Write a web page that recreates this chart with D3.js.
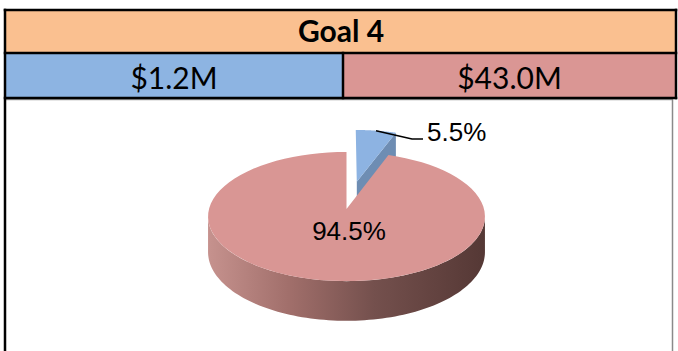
<!DOCTYPE html>
<html>
<head>
<meta charset="utf-8">
<script src="https://cdn.jsdelivr.net/npm/d3@7"></script>
<style>
  body { margin: 0; background: #fff; }
</style>
</head>
<body>
<div id="chart"></div>
<script>
var title = "Goal 4";
var categories = ["Funded", "Unfunded"];
var amountLabels = ["$1.2M", "$43.0M"];
var pieValues = [5.5, 94.5];
var pieLabels = ["5.5%", "94.5%"];
var bandColours = ["#8db4e2", "#da9694"];
var pieColours = ["#8db3e2", "#d99694"];

function drawChart() {
    d3.select("#chart").selectAll("*").remove();

    var width = 678, height = 351;
    var svg = d3.select("#chart")
      .append("svg")
        .attr("width", width)
        .attr("height", height);

    // header table, the two cells are not quite equal
    var tableLeft = 5, tableRight = 676;
    var x = d3.scaleOrdinal()
      .domain(categories)
      .range([tableLeft, 343]);
    var cellWidth = function (d, i) {
        return (i < categories.length - 1 ? x(categories[i + 1]) : tableRight) - x(d);
    };
    var headerTop = 10, headerMid = 53, headerBottom = 98;

    svg.append("rect")
      .attr("x", tableLeft)
      .attr("y", headerTop)
      .attr("width", tableRight - tableLeft)
      .attr("height", headerMid - headerTop)
      .attr("fill", "#fac090");

    svg.selectAll(".band")
      .data(categories).enter()
      .append("rect")
        .attr("x", d => x(d))
        .attr("y", headerMid)
        .attr("width", cellWidth)
        .attr("height", headerBottom - headerMid)
        .attr("fill", (d, i) => bandColours[i]);

    // grid lines
    var lines = [
      [tableLeft, headerTop, tableRight, headerTop],
      [tableLeft, headerMid, tableRight, headerMid],
      [tableLeft, headerBottom, tableRight, headerBottom],
      [tableLeft, headerTop, tableLeft, height],
      [tableRight, headerTop, tableRight, headerBottom],
      [x(categories[1]), headerMid, x(categories[1]), headerBottom]
    ];
    svg.append("line")
      .attr("x1", 6).attr("x2", 672)
      .attr("y1", 99.5).attr("y2", 99.5)
      .attr("stroke", "#9a9a9a")
      .attr("stroke-width", 1.5);
    svg.append("line")
      .attr("x1", 672.5).attr("x2", 672.5)
      .attr("y1", 99).attr("y2", height)
      .attr("stroke", "#8a8a8a")
      .attr("stroke-width", 1.5);
    svg.selectAll(".grid")
      .data(lines).enter()
      .append("line")
        .attr("x1", d => d[0]).attr("y1", d => d[1])
        .attr("x2", d => d[2]).attr("y2", d => d[3])
        .attr("stroke", "#000")
        .attr("stroke-width", 2.5)
        .attr("stroke-linecap", "square");

    svg.append("text")
      .attr("x", 341)
      .attr("y", 42)
      .attr("text-anchor", "middle")
      .style("font-family", "Lato, 'Open Sans', sans-serif")
      .style("font-weight", "bold")
      .style("font-size", "30px")
      .text(title);

    svg.selectAll(".amount")
      .data(amountLabels).enter()
      .append("text")
        .attr("x", (d, i) => x(categories[i]) + cellWidth(categories[i], i) / 2)
        .attr("y", 89)
        .attr("text-anchor", "middle")
        .style("font-family", "Lato, 'Open Sans', sans-serif")
        .style("font-size", "30px")
        .text(d => d);

    // 3d pie with a little perspective
    var cx = 346.5, cy = 209, rx = 137.5, ry = 63.7, persp = 0.117, depth = 35;
    var explode = [0.458, 0];

    function project(u, v, drop) {
        var f = 1 / (1 - persp * v);
        return [cx + rx * u * f, cy + (ry * v + (drop || 0)) * f];
    }
    function rim(a, off, drop) {
        return project(Math.sin(a) + off[0], -Math.cos(a) + off[1], drop);
    }

    var pie = d3.pie().sort(null).value(d => d);
    var arcs = pie(pieValues);
    arcs.forEach(function (d, i) {
        var mid = (d.startAngle + d.endAngle) / 2;
        d.off = [explode[i] * Math.sin(mid), -explode[i] * Math.cos(mid)];
    });

    var line = d3.line();

    var grad = svg.append("defs").append("linearGradient")
      .attr("id", "side")
      .attr("x1", "0%").attr("x2", "100%")
      .attr("y1", "0%").attr("y2", "0%");
    grad.selectAll("stop")
      .data([[0, "#c6928e"], [0.3, "#a06e6a"], [0.6, "#74504d"], [1, "#553835"]]).enter()
      .append("stop")
        .attr("offset", d => d[0])
        .attr("stop-color", d => d[1]);

    function topFace(d) {
        var pts = [project(d.off[0], d.off[1])];
        var n = 80;
        for (var k = 0; k <= n; k++) {
            var a = d.startAngle + (d.endAngle - d.startAngle) * k / n;
            pts.push(rim(a, d.off));
        }
        return line(pts) + "Z";
    }

    // blue slice (back): radial side wall then top
    var b = arcs[0];
    var c0 = project(b.off[0], b.off[1]);
    var c1 = project(b.off[0], b.off[1], depth);
    svg.append("path")
      .attr("d", line([c0, rim(b.endAngle, b.off), rim(b.endAngle, b.off, depth), c1]) + "Z")
      .attr("fill", "#6e8db3");
    svg.append("path")
      .attr("d", topFace(b))
      .attr("fill", pieColours[0]);

    // pink slice: outer wall on the front half, then top
    var p = arcs[1];
    var a0 = Math.acos(-persp), a1 = 2 * Math.PI - a0;
    var upper = [], lower = [];
    for (var k = 0; k <= 100; k++) {
        var a = a0 + (a1 - a0) * k / 100;
        upper.push(rim(a, p.off));
        lower.unshift(rim(a, p.off, depth));
    }
    svg.append("path")
      .attr("d", line(upper.concat(lower)) + "Z")
      .attr("fill", "url(#side)");
    svg.append("path")
      .attr("d", topFace(p))
      .attr("fill", pieColours[1]);

    // labels
    var bm = (b.startAngle + b.endAngle) / 2;
    var start = rim(bm, b.off);
    svg.append("path")
      .attr("d", line([start, [412, 139], [423, 139]]))
      .attr("fill", "none")
      .attr("stroke", "#000")
      .attr("stroke-width", 1.5);
    svg.append("text")
      .attr("x", 427)
      .attr("y", 141)
      .style("font-family", "'Liberation Sans', Arial, sans-serif")
      .style("font-size", "26px")
      .text(pieLabels[0]);
    svg.append("text")
      .attr("x", cx + 2.5)
      .attr("y", 240)
      .attr("text-anchor", "middle")
      .style("font-family", "'Liberation Sans', Arial, sans-serif")
      .style("font-size", "26px")
      .text(pieLabels[1]);
}

drawChart();
</script>
</body>
</html>
